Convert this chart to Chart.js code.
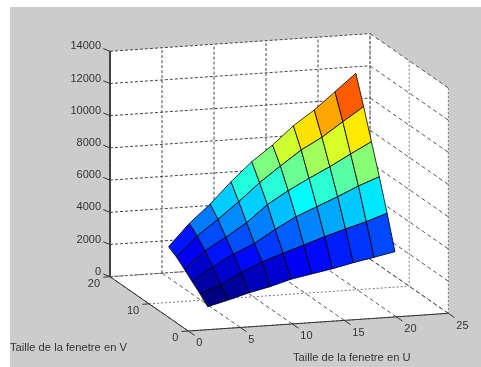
<!DOCTYPE html>
<html>
<head>
<meta charset="utf-8">
<style>
html, body { margin: 0; padding: 0; background: #fff; overflow: hidden; }
#panel { position: absolute; left: 10px; top: 7px; width: 471px; height: 360px; background: #ccc; }
#surfChart { position: absolute; left: 0; top: 0; }
</style>
<script src="https://cdn.jsdelivr.net/npm/chart.js@4"></script>
</head>
<body>
<div id="panel"></div>
<canvas id="surfChart" width="481" height="367"></canvas>
<script>
const uValues = [3, 5, 7, 9, 11, 13, 15, 17, 19, 21];
const vValues = [3, 5, 7, 9, 11, 13];
// one row per V
const zRow3 = [871, 1199, 1565, 1851, 2224, 2466, 2702, 2988, 3236, 3497];
const zRow5 = [1342, 1795, 2472, 3062, 3497, 3925, 4354, 4745, 5112, 5547];
const zRow7 = [1764, 2596, 3292, 3870, 4650, 5348, 5882, 6416, 6988, 7478];
const zRow9 = [2199, 3248, 3994, 4814, 5850, 6627, 7304, 7938, 8640, 9317];
const zRow11 = [2609, 3826, 4776, 5783, 6876, 7822, 8728, 9429, 10310, 11154];
const zRow13 = [2913, 4277, 5387, 6686, 7840, 8788, 9900, 10787, 11835, 12890];
const zRows = [zRow3, zRow5, zRow7, zRow9, zRow11, zRow13];

const uTicks = [0, 5, 10, 15, 20, 25];
const vTicks = [0, 10, 20];
const zTicks = [0, 2000, 4000, 6000, 8000, 10000, 12000, 14000];
const uLabel = 'Taille de la fenetre en U';
const vLabel = 'Taille de la fenetre en V';

// orthographic view of the box, in page pixels
function project(u, v, z) {
    return {
        x: 188.3 + 10.4 * u - 3.915 * v,
        y: 331 - 0.708 * u - 2.715 * v - 0.0161 * z
    };
}

function jet(z) {
    const f = (z - 871) / (12890 - 871);
    const band = c => Math.round(255 * Math.max(0, Math.min(1, 1.5 - Math.abs(4 * f - c))));
    return 'rgb(' + band(3) + ',' + band(2) + ',' + band(1) + ')';
}

const datasets = [];
let order = 1000;

function addLine(pts, style) {
    datasets.push(Object.assign({
        data: pts.map(p => project(p[0], p[1], p[2])),
        showLine: true,
        pointRadius: 0,
        borderWidth: 1,
        borderColor: '#000',
        fill: false,
        tension: 0,
        order: order--
    }, style));
}

const uMax = 25, vMax = 20, zMax = 14000;
const gridStyle = { borderColor: '#444', borderWidth: 1, borderDash: [3, 2] };
const wallStyle = { borderColor: '#555', borderWidth: 1, borderDash: [4, 3] };
const paleStyle = { borderColor: '#777', borderWidth: 1, borderDash: [2, 2] };
const axisStyle = { borderColor: '#333', borderWidth: 1 };

// white walls and floor
addLine([[0, 0, 0], [uMax, 0, 0], [uMax, vMax, 0], [0, vMax, 0], [0, 0, 0]],
    { backgroundColor: '#fff', fill: 'shape', borderWidth: 0 });
addLine([[0, vMax, 0], [uMax, vMax, 0], [uMax, vMax, zMax], [0, vMax, zMax], [0, vMax, 0]],
    { backgroundColor: '#fff', fill: 'shape', borderWidth: 0 });
addLine([[uMax, 0, 0], [uMax, vMax, 0], [uMax, vMax, zMax], [uMax, 0, zMax], [uMax, 0, 0]],
    { backgroundColor: '#fff', fill: 'shape', borderWidth: 0 });

// dashed grid
zTicks.forEach(z => {
    addLine([[0, vMax, z], [uMax, vMax, z]], gridStyle);
    addLine([[uMax, vMax, z], [uMax, 0, z]], wallStyle);
});
uTicks.forEach(u => {
    addLine([[u, 0, 0], [u, vMax, 0]], wallStyle);
    addLine([[u, vMax, 0], [u, vMax, zMax]], gridStyle);
});
vTicks.forEach(v => {
    addLine([[0, v, 0], [uMax, v, 0], [uMax, v, zMax]], paleStyle);
});

// solid axes and tick marks
addLine([[0, vMax, zMax], [0, vMax, 0], [0, 0, 0], [uMax, 0, 0]], axisStyle);
zTicks.forEach(z => addLine([[0, vMax, z], [-0.25, vMax + 1.06, z]], axisStyle));
uTicks.forEach(u => addLine([[u, 0, 0], [u, -1.6, 0]], axisStyle));
vTicks.forEach(v => addLine([[0, v, 0], [-0.65, v, 0]], axisStyle));

// surface faces, coloured from their lowest corner
for (let j = vValues.length - 2; j >= 0; j--) {
    for (let i = 0; i < uValues.length - 1; i++) {
        const a = [uValues[i], vValues[j], zRows[j][i]];
        const b = [uValues[i + 1], vValues[j], zRows[j][i + 1]];
        const c = [uValues[i + 1], vValues[j + 1], zRows[j + 1][i + 1]];
        const d = [uValues[i], vValues[j + 1], zRows[j + 1][i]];
        addLine([a, b, c, d, a], {
            backgroundColor: jet(zRows[j][i]),
            fill: 'shape',
            borderColor: '#000',
            borderWidth: 0.8
        });
    }
}

const labelPlugin = {
    id: 'labels3d',
    afterDraw(chart) {
        const ctx = chart.ctx;
        const sx = chart.scales.x, sy = chart.scales.y;
        const put = (text, x, y, align) => {
            ctx.textAlign = align;
            ctx.fillText(text, sx.getPixelForValue(x), sy.getPixelForValue(y));
        };
        ctx.save();
        ctx.font = '11px "Liberation Sans"';
        ctx.fillStyle = '#333';
        ctx.textBaseline = 'middle';
        zTicks.forEach(z => {
            const p = project(0, vMax, z);
            put(String(z), p.x - 9, p.y - 5, 'right');
        });
        uTicks.forEach(u => {
            const p = project(u, 0, 0);
            put(String(u), p.x + 8, p.y + 12.4, 'left');
        });
        vTicks.forEach(v => {
            const p = project(0, v, 0);
            put(String(v), p.x - 10, p.y + 7.3, 'right');
        });
        ctx.font = '11.2px "Liberation Sans"';
        put(vLabel, 10, 348, 'left');
        put(uLabel, 293, 358, 'left');
        ctx.restore();
    }
};

new Chart(document.getElementById('surfChart').getContext('2d'), {
    type: 'scatter',
    data: { datasets: datasets },
    options: {
        responsive: false,
        animation: false,
        layout: { padding: 0 },
        events: [],
        plugins: { legend: { display: false }, tooltip: { enabled: false } },
        scales: {
            x: { type: 'linear', min: 0, max: 481, display: false },
            y: { type: 'linear', min: 0, max: 367, reverse: true, display: false }
        }
    },
    plugins: [labelPlugin]
});
</script>
</body>
</html>
